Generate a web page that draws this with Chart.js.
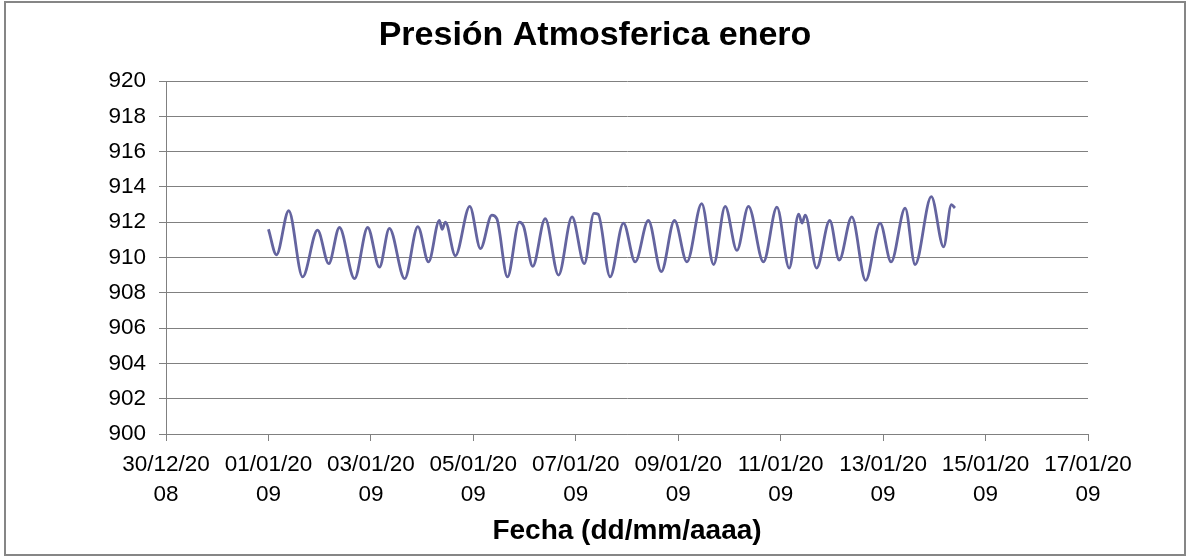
<!DOCTYPE html>
<html>
<head>
<meta charset="utf-8">
<title>Presión Atmosferica enero</title>
<script src="https://cdn.jsdelivr.net/npm/chart.js@4.4.0/dist/chart.umd.min.js"></script>
<style>
    html, body { margin: 0; padding: 0; background: #fff; }
    #wrap { width: 1190px; height: 558px; }
</style>
</head>
<body>
<div id="wrap"><canvas id="chart" width="1190" height="558"></canvas></div>
<script>
// Pressure readings, January 2009 (local time)
const times = [
    '2009-01-01 00:00', '2009-01-01 03:45', '2009-01-01 09:30', '2009-01-01 16:00', '2009-01-01 23:00',
    '2009-01-02 04:15', '2009-01-02 09:15', '2009-01-02 16:20', '2009-01-02 22:30',
    '2009-01-03 04:00', '2009-01-03 08:40', '2009-01-03 15:50', '2009-01-03 22:00',
    '2009-01-04 03:00', '2009-01-04 08:05', '2009-01-04 09:20', '2009-01-04 10:55', '2009-01-04 15:35', '2009-01-04 22:20',
    '2009-01-05 03:20', '2009-01-05 08:40', '2009-01-05 11:00', '2009-01-05 16:00', '2009-01-05 21:30', '2009-01-05 23:35',
    '2009-01-06 03:50', '2009-01-06 09:40', '2009-01-06 15:55', '2009-01-06 22:15',
    '2009-01-07 04:00', '2009-01-07 08:30', '2009-01-07 10:30', '2009-01-07 16:05', '2009-01-07 22:20',
    '2009-01-08 03:50', '2009-01-08 10:00', '2009-01-08 16:05', '2009-01-08 22:15',
    '2009-01-09 04:05', '2009-01-09 11:00', '2009-01-09 16:35', '2009-01-09 22:00',
    '2009-01-10 03:30', '2009-01-10 08:55', '2009-01-10 15:55', '2009-01-10 22:15',
    '2009-01-11 04:00', '2009-01-11 08:25', '2009-01-11 10:00', '2009-01-11 11:30', '2009-01-11 16:50', '2009-01-11 23:00',
    '2009-01-12 03:25', '2009-01-12 09:20', '2009-01-12 15:50', '2009-01-12 22:35',
    '2009-01-13 03:45', '2009-01-13 10:20', '2009-01-13 15:00', '2009-01-13 22:35',
    '2009-01-14 04:20', '2009-01-14 08:00', '2009-01-14 09:40'
];
const pressure = [
    911.6, 910.15, 912.65, 908.9, 911.55,
    909.65, 911.7, 908.8, 911.7,
    909.45, 911.65, 908.8, 911.75,
    909.75, 912.1, 911.6, 912.0, 910.1, 912.9,
    910.5, 912.4, 912.2, 908.9, 912.0, 911.75,
    909.5, 912.2, 909.0, 912.3,
    909.65, 912.5, 912.45, 908.9, 911.95,
    909.75, 912.1, 909.2, 912.1,
    909.75, 913.05, 909.6, 912.9,
    910.4, 912.9, 909.75, 912.85,
    909.4, 912.45, 911.95, 912.4, 909.4, 912.1,
    909.85, 912.3, 908.7, 911.95,
    909.75, 912.8, 909.6, 913.45,
    910.6, 913.0, 912.8
];

// Axis limits
const xStart = Date.UTC(2008, 11, 30);   // 30/12/2008
const xDays = 18;                          // up to 17/01/2009
const xStepDays = 2;
const yMin = 900;
const yMax = 920;
const yStep = 2;

const FONT = "'Liberation Sans', Arial, sans-serif";
const DAY = 86400000;

function toDays(s) {
    const [d, t] = s.split(' ');
    const [yy, mm, dd] = d.split('-').map(Number);
    const [hh, mi] = t.split(':').map(Number);
    return (Date.UTC(yy, mm - 1, dd, hh, mi) - xStart) / DAY;
}

// dd/mm/yyyy wrapped the way the original axis wraps it
function dayLabel(v) {
    const d = new Date(xStart + v * DAY);
    const pad = n => String(n).padStart(2, '0');
    const s = pad(d.getUTCDate()) + '/' + pad(d.getUTCMonth() + 1) + '/' + d.getUTCFullYear();
    return [s.slice(0, 8), s.slice(8)];
}

const points = times.map((t, i) => ({ x: toDays(t), y: pressure[i] }));

const framePlugin = {
    id: 'frame',
    afterDraw(chart) {
        const ctx = chart.ctx;
        ctx.save();
        ctx.strokeStyle = '#868686';
        ctx.lineWidth = 2;
        ctx.strokeRect(5, 2, 1180, 553);
        ctx.restore();
    }
};

new Chart(document.getElementById('chart'), {
    type: 'line',
    data: {
        datasets: [{
            label: 'Presión',
            data: points,
            borderColor: '#64649f',
            borderWidth: 2.8,
            pointRadius: 0,
            fill: false,
            cubicInterpolationMode: 'monotone'
        }]
    },
    options: {
        responsive: false,
        animation: false,
        layout: { padding: 0 },
        plugins: {
            legend: { display: false },
            tooltip: { enabled: false },
            title: {
                display: true,
                text: 'Presión Atmosferica enero',
                color: '#000',
                font: { family: FONT, size: 34, weight: 'bold', lineHeight: 1.2 },
                padding: { top: 15.6, bottom: 24.6 }
            }
        },
        scales: {
            x: {
                type: 'linear',
                min: 0,
                max: xDays,
                afterFit: (s) => { s.height = 124; },
                ticks: {
                    stepSize: xStepDays,
                    autoSkip: false,
                    maxRotation: 0,
                    color: '#000',
                    padding: 9,
                    font: { family: FONT, size: 22.5, lineHeight: 1.33 },
                    callback: (v) => dayLabel(v)
                },
                grid: { drawOnChartArea: false, drawTicks: true, tickLength: 7, color: '#808080' },
                border: { color: '#808080' },
                title: {
                    display: true,
                    text: 'Fecha (dd/mm/aaaa)',
                    color: '#000',
                    font: { family: FONT, size: 28, weight: 'bold', lineHeight: 1.2 },
                    padding: { top: 0, bottom: 10 }
                }
            },
            y: {
                min: yMin,
                max: yMax,
                afterFit: (s) => { s.width = 166; },
                ticks: {
                    stepSize: yStep,
                    color: '#000',
                    padding: 13,
                    font: { family: FONT, size: 22.5 }
                },
                grid: { color: '#808080', tickLength: 7 },
                border: { color: '#808080' }
            },
            // empty right margin, keeps the plot at its original width
            yRight: {
                position: 'right',
                afterFit: (s) => { s.width = 102; },
                ticks: { display: false },
                grid: { display: false },
                border: { display: false }
            }
        }
    },
    plugins: [framePlugin]
});
</script>
</body>
</html>
